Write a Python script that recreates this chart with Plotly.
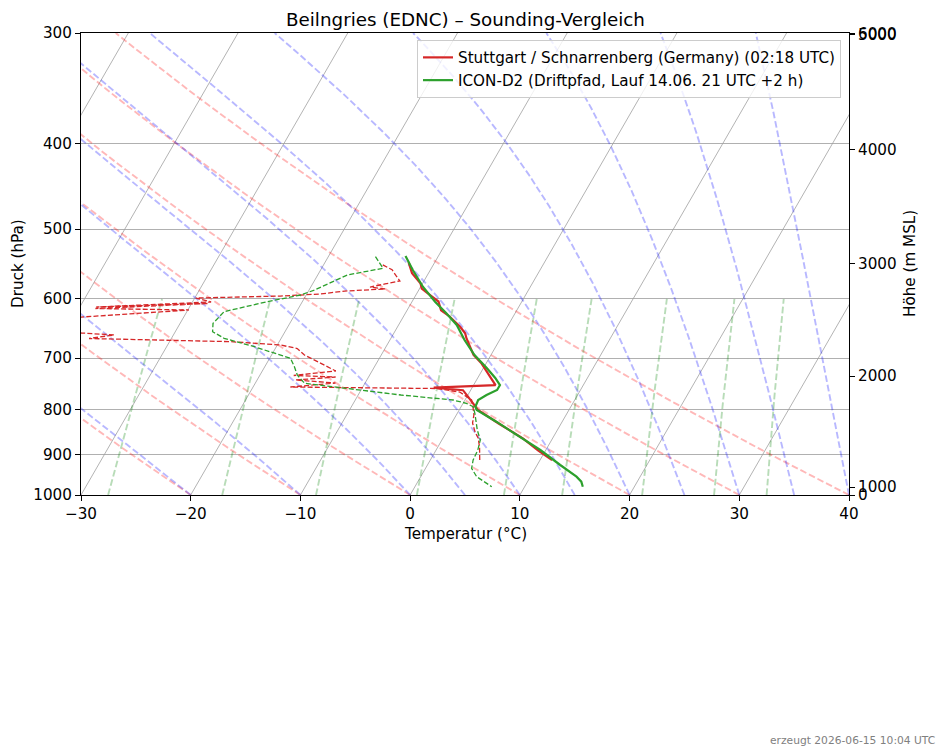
import numpy as np
import plotly.graph_objects as go

# ---------------- data ----------------
# Stuttgart / Schnarrenberg radiosonde: temperature
stg_T_p = [545, 561, 576, 584, 594, 604, 618, 628, 645, 656, 665, 694, 710, 725, 741, 751,
           756, 759, 761, 774, 788, 801, 830, 863, 890, 913]
stg_T = [-12.4, -11.5, -10.2, -9.8, -8.7, -7.6, -6.9, -5.8, -4.3, -3.5, -3.1, -1.6, -0.4, 0.5, 1.4, 2.0,
         -3.5, -2.0, -0.7, 0.1, 0.9, 1.7, 4.3, 7.3, 9.3, 11.1]
# Stuttgart dewpoint
stg_Td_p = [549, 556, 565, 572.5, 577, 581.6, 584.6, 587.7, 592.3, 595.4, 598.5, 604.7, 612.7, 607.1,
            615.1, 617.5, 631.3, 642, 655.6, 659, 665.1, 670.6, 676.5, 682.7, 694.3, 714.5, 723.9,
            732.4, 735.3, 741, 746.9, 754.7, 757.7, 764.6, 780.7, 795.1, 811.8, 829, 848.6, 862,
            882.4, 912.8]
stg_Td = [-14.6, -13.5, -12.8, -12.2, -13.4, -14.6, -13.1, -16.7, -18.8, -22.3, -29.9, -28.3, -38.5,
          -28.5, -38.5, -29.9, -41.2, -42.7, -38.5, -35.4, -37.5, -24.4, -19.7, -18.0, -17.0, -14.4,
          -13.3, -16.9, -13.0, -16.5, -12.7, -16.6, -3.2, -0.9, 0.6, 1.1, 1.6, 1.9, 2.6, 3.2, 3.8, 4.5]
# ICON-D2 drift path: temperature
icon_T_p = [536.4, 556.3, 581.1, 604.3, 622.3, 642.1, 667.7, 694.3, 718.2, 737.2, 750.8, 760.6,
            770.6, 780.7, 794.5, 801.3, 826.1, 859.1, 889.4, 924.8, 953.4, 965.9, 978.6]
icon_T = [-13.0, -11.6, -9.8, -7.9, -6.3, -4.7, -3.2, -1.5, 0.3, 1.6, 2.4, 2.4, 1.7, 1.2, 1.3, 1.6,
          4.0, 6.9, 9.5, 12.1, 14.2, 14.9, 15.3]
# ICON-D2 dewpoint
icon_Td_p = [537.4, 553.9, 563.6, 586.1, 593.8, 604.3, 620.2, 639.3, 653.4, 664.7, 679.5, 700.3,
             715.8, 731.5, 747.4, 757.2, 770.6, 780.7, 787.5, 794.5, 808.2, 844.2, 866.5, 889.4,
             912.8, 932.8, 953.4, 978.6]
icon_Td = [-15.7, -14.4, -17.3, -19.5, -20.5, -23.2, -26.6, -27.0, -26.6, -25.2, -22.0, -18.1,
           -17.3, -16.6, -15.5, -11.3, -6.1, -1.1, 0.3, 1.1, 1.6, 2.7, 3.5, 3.8, 3.9, 4.2, 5.1, 7.0]

# axis ticks
p_ticks = [300, 400, 500, 600, 700, 800, 900, 1000]
t_ticks = [-30, -20, -10, 0, 10, 20, 30, 40]
height_m = [0, 1000, 2000, 3000, 4000, 5000, 6000]
height_p = [1000, 979.4, 733.4, 547.7, 406.9, 301.0, 300.6]

# background line parameters (MetPy defaults)
isotherm_T = list(range(-80, 50, 10))
dry_t0 = [-30, -20, -10, 0, 10, 20, 30, 40]
moist_t0 = [-30, -20, -10, 0, 5, 10, 15, 20, 25, 30, 35, 40]
mix_ratios = [0.0004, 0.001, 0.002, 0.004, 0.007, 0.01, 0.016, 0.024, 0.032]

# ---------------- layout geometry ----------------
W, H = 948, 755
ML, MR, MT, MB = 81, 99, 33, 260
PW, PH = W - ML - MR, H - MT - MB
P_BOT, P_TOP = 1000.0, 300.0
T_MIN, T_MAX = -30.0, 40.0
# skew so that isotherms are tilted 30 degrees from vertical on screen
K = np.tan(np.radians(30)) * (PH / np.log(P_BOT / P_TOP)) * ((T_MAX - T_MIN) / PW)


def skew(T, p):
    T = np.asarray(T, dtype=float)
    p = np.asarray(p, dtype=float)
    return T + K * np.log(P_BOT / p)


fig = go.Figure()

# isotherms
p_line = np.array([P_BOT, P_TOP])
for t in isotherm_T:
    fig.add_trace(go.Scatter(x=skew([t, t], p_line), y=p_line, mode="lines",
                             line=dict(color="#a0a0a0", width=0.8),
                             hoverinfo="skip", showlegend=False))

BG_DASH = "6.7px,2.9px"
# dry adiabats
pp = np.linspace(P_BOT, P_TOP, 60)
for t0 in dry_t0:
    T = (t0 + 273.15) * (pp / 1000.0) ** 0.28571 - 273.15
    fig.add_trace(go.Scatter(x=skew(T, pp), y=pp, mode="lines",
                             line=dict(color="rgba(255,0,0,0.28)", width=1.9, dash=BG_DASH),
                             hoverinfo="skip", showlegend=False))

# moist adiabats (RK4 integration of the saturated lapse rate)
Rd, Cp, Lv, eps = 287.04749, 1004.6662, 2.50084e6, 0.6219569


def dTdp(T, p):
    es = 6.112 * np.exp(17.67 * (T - 273.15) / (T - 29.65))
    rs = eps * es / (p - es)
    return (Rd * T + Lv * rs) / (Cp + Lv * Lv * rs * eps / (Rd * T * T)) / p


pm = np.linspace(P_BOT, P_TOP, 281)
Tm = np.array(moist_t0, dtype=float) + 273.15
prof = [Tm.copy()]
for i in range(len(pm) - 1):
    p0, h = pm[i], pm[i + 1] - pm[i]
    k1 = dTdp(Tm, p0)
    k2 = dTdp(Tm + h / 2 * k1, p0 + h / 2)
    k3 = dTdp(Tm + h / 2 * k2, p0 + h / 2)
    k4 = dTdp(Tm + h * k3, p0 + h)
    Tm = Tm + h / 6 * (k1 + 2 * k2 + 2 * k3 + k4)
    prof.append(Tm.copy())
prof = np.array(prof) - 273.15
for j in range(len(moist_t0)):
    fig.add_trace(go.Scatter(x=skew(prof[:, j], pm), y=pm, mode="lines",
                             line=dict(color="rgba(0,0,255,0.28)", width=1.9, dash=BG_DASH),
                             hoverinfo="skip", showlegend=False))

# mixing ratio lines
pw = np.linspace(P_BOT, 600, 30)
for w in mix_ratios:
    e = pw * w / (eps + w)
    v = np.log(e / 6.112)
    Td = 243.5 * v / (17.67 - v)
    fig.add_trace(go.Scatter(x=skew(Td, pw), y=pw, mode="lines",
                             line=dict(color="rgba(0,128,0,0.28)", width=1.9, dash=BG_DASH),
                             hoverinfo="skip", showlegend=False))

RED = "#d62728"
GREEN = "#2ca02c"

fig.add_trace(go.Scatter(x=skew(stg_Td, stg_Td_p), y=stg_Td_p, mode="lines",
                         line=dict(color=RED, width=1.3, dash="5px,2.2px"), showlegend=False))
fig.add_trace(go.Scatter(x=skew(icon_Td, icon_Td_p), y=icon_Td_p, mode="lines",
                         line=dict(color=GREEN, width=1.3, dash="5px,2.2px"), showlegend=False))
fig.add_trace(go.Scatter(x=skew(stg_T, stg_T_p), y=stg_T_p, mode="lines",
                         line=dict(color=RED, width=2.2),
                         name="Stuttgart / Schnarrenberg (Germany) (02:18 UTC)"))
fig.add_trace(go.Scatter(x=skew(icon_T, icon_T_p), y=icon_T_p, mode="lines",
                         line=dict(color=GREEN, width=2.2),
                         name="ICON-D2 (Driftpfad, Lauf 14.06. 21 UTC +2 h)"))

# invisible trace to activate the height axis
fig.add_trace(go.Scatter(x=[T_MIN], y=[P_BOT], yaxis="y2", mode="lines", opacity=0,
                         hoverinfo="skip", showlegend=False))

FONT = "DejaVu Sans"
FS = 15.2
yr = [np.log10(P_BOT), np.log10(P_TOP)]

fig.update_layout(
    width=W, height=H,
    margin=dict(l=ML, r=MR, t=MT, b=MB),
    plot_bgcolor="white", paper_bgcolor="white",
    font=dict(family=FONT, size=FS, color="black"),
    showlegend=True,
    legend=dict(x=(841 - ML) / PW, y=(MT + PH - 40) / PH, xanchor="right", yanchor="top",
                bgcolor="rgba(255,255,255,0.8)", bordercolor="#cccccc", borderwidth=1,
                font=dict(size=FS, family=FONT), itemwidth=30, tracegroupgap=0),
    xaxis=dict(range=[T_MIN, T_MAX], tickvals=t_ticks, showgrid=False, zeroline=False,
               ticks="outside", ticklen=5, tickwidth=1, tickcolor="black",
               showline=True, linecolor="black", linewidth=1, mirror=True,
               tickfont=dict(size=FS, family=FONT, color="black")),
    yaxis=dict(type="log", range=yr, tickvals=p_ticks, ticktext=[str(p) for p in p_ticks],
               showgrid=True, gridcolor="#b0b0b0", gridwidth=1, zeroline=False,
               ticks="outside", ticklen=5, tickwidth=1, tickcolor="black",
               showline=True, linecolor="black", linewidth=1, mirror=True,
               tickfont=dict(size=FS, family=FONT, color="black")),
    yaxis2=dict(type="log", range=yr, overlaying="y", side="right", anchor="x",
                tickvals=height_p, ticktext=[str(h) for h in height_m],
                showgrid=False, zeroline=False, ticks="outside", ticklen=5, tickwidth=1,
                tickcolor="black", showline=True, linecolor="black", linewidth=1,
                tickfont=dict(size=FS, family=FONT, color="black")),
    annotations=[
        dict(text="Beilngries (EDNC) – Sounding-Vergleich", xref="paper", yref="paper",
             x=0.5, y=1, yshift=14, xanchor="center", yanchor="middle", showarrow=False,
             font=dict(size=18.3, family=FONT, color="black")),
        dict(text="Druck (hPa)", xref="paper", yref="paper", x=0, y=0.5, xshift=-63,
             textangle=-90, xanchor="center", yanchor="middle", showarrow=False,
             font=dict(size=FS, family=FONT, color="black")),
        dict(text="Temperatur (°C)", xref="paper", yref="paper", x=0.5, y=0, yshift=-39,
             xanchor="center", yanchor="middle", showarrow=False,
             font=dict(size=FS, family=FONT, color="black")),
        dict(text="Höhe (m MSL)", xref="paper", yref="paper", x=1, y=0.5, xshift=61,
             textangle=-90, xanchor="center", yanchor="middle", showarrow=False,
             font=dict(size=FS, family=FONT, color="black")),
        dict(text="erzeugt 2026-06-15 10:04 UTC", xref="paper", yref="paper", x=1, y=0,
             xshift=88, yshift=-245, xanchor="right", yanchor="middle", showarrow=False,
             font=dict(size=10.7, family=FONT, color="#808080")),
    ],
)

fig.write_html("out.html")
